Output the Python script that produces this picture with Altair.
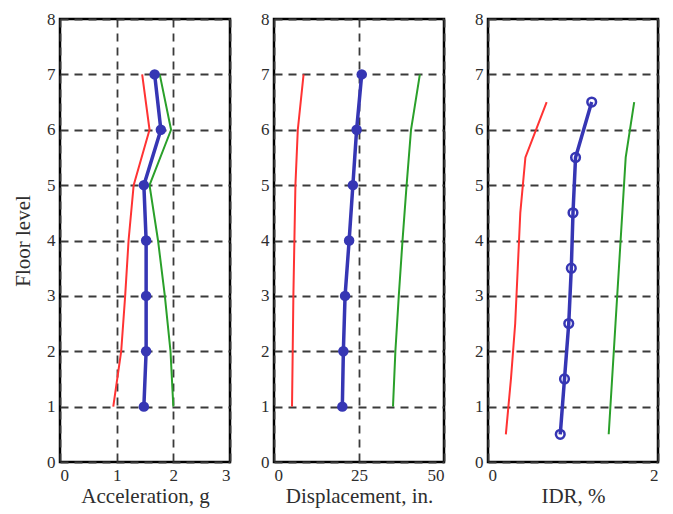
import altair as alt
import pandas as pd

floors = [1, 2, 3, 4, 5, 6, 7]
idr_levels = [0.5, 1.5, 2.5, 3.5, 4.5, 5.5, 6.5]

acc_red = [0.94, 1.08, 1.15, 1.21, 1.30, 1.58, 1.45]
acc_blue = [1.48, 1.52, 1.52, 1.52, 1.48, 1.78, 1.67]
acc_green = [2.00, 1.95, 1.85, 1.73, 1.58, 1.96, 1.76]

disp_red = [5.3, 5.5, 5.7, 6.0, 6.3, 7.0, 8.7]
disp_blue = [20.1, 20.4, 20.9, 22.1, 23.2, 24.3, 25.8]
disp_green = [35.0, 35.7, 36.7, 37.8, 39.0, 40.3, 42.9]

idr_red = [0.21, 0.27, 0.32, 0.35, 0.38, 0.44, 0.69]
idr_blue = [0.85, 0.90, 0.95, 0.98, 1.00, 1.03, 1.22]
idr_green = [1.42, 1.46, 1.50, 1.54, 1.58, 1.62, 1.72]

RED = "#ff3333"
GREEN = "#2aa02a"
BLUE = "#3636b4"
FONT = "Liberation Serif"
TXT = "#2e2e2e"


def make_df(levels, red, blue, green):
    rows = []
    for name, vals in (("red", red), ("blue", blue), ("green", green)):
        for lv, v in zip(levels, vals):
            rows.append({"series": name, "floor": lv, "val": v})
    return pd.DataFrame(rows)


def panel(df, xtitle, xdomain, xticks, filled, ytitle):
    xenc = alt.X("val:Q", scale=alt.Scale(domain=xdomain, nice=False, zero=False),
                 axis=alt.Axis(values=xticks, title=xtitle, format="d"))
    if ytitle:
        yaxis = alt.Axis(values=list(range(9)), title=ytitle, format="d")
    else:
        yaxis = alt.Axis(values=list(range(9)), title=None, format="d")
    yenc = alt.Y("floor:Q", scale=alt.Scale(domain=[0, 8], nice=False), axis=yaxis)
    base = alt.Chart(df).encode(x=xenc, y=yenc, order="floor:Q")
    red = base.transform_filter(alt.datum.series == "red").mark_line(color=RED, strokeWidth=2)
    green = base.transform_filter(alt.datum.series == "green").mark_line(color=GREEN, strokeWidth=2)
    blue = base.transform_filter(alt.datum.series == "blue").mark_line(color=BLUE, strokeWidth=3.5)
    if filled:
        pts = base.transform_filter(alt.datum.series == "blue").mark_point(
            color=BLUE, filled=True, size=110, opacity=1)
    else:
        pts = base.transform_filter(alt.datum.series == "blue").mark_point(
            color=BLUE, filled=False, size=75, strokeWidth=2.5, opacity=1)
    return alt.layer(red, green, blue, pts).properties(width=170, height=443)


p1 = panel(make_df(floors, acc_red, acc_blue, acc_green), "Acceleration, g", [0, 3], [0, 1, 2, 3], True, "Floor level")
p2 = panel(make_df(floors, disp_red, disp_blue, disp_green), "Displacement, in.", [0, 50], [0, 25, 50], True, None)
p3 = panel(make_df(idr_levels, idr_red, idr_blue, idr_green), "IDR, %", [0, 2], [0, 1, 2], False, None)

chart = alt.hconcat(p1, p2, p3, spacing=27).properties(
    padding={"left": 3, "top": 0, "right": 0, "bottom": 0}
).configure_view(
    stroke="black", strokeWidth=2.5
).configure_axis(
    grid=True, gridColor="#3a3a3a", gridDash=[8, 6], gridWidth=1.8, gridOpacity=1,
    domain=False, ticks=False,
    labelFont=FONT, labelFontSize=17, labelColor=TXT, labelPadding=5,
    titleFont=FONT, titleFontSize=21, titleFontWeight="normal", titleColor=TXT,
    titlePadding=2,
).configure_axisY(
    titlePadding=13
)

chart.save("out.html", embed_options={"renderer": "svg", "actions": False})
